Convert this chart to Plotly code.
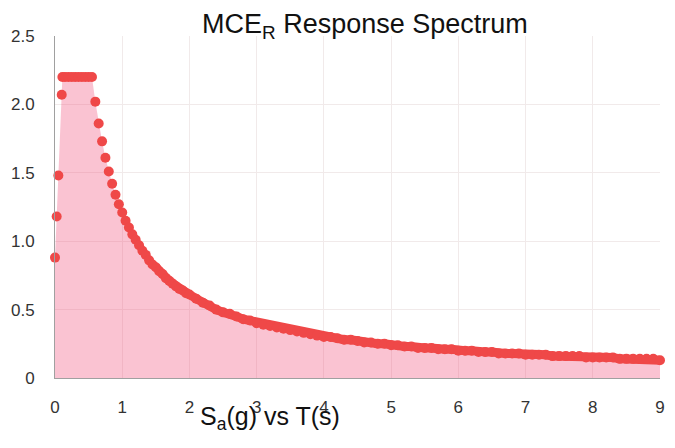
import plotly.graph_objects as go

# Period T (s)
period = [0.0, 0.025, 0.05, 0.1,
          0.11, 0.15, 0.2, 0.25, 0.3, 0.35, 0.4, 0.45, 0.5, 0.55,
          0.6, 0.65, 0.7, 0.75, 0.8, 0.85, 0.9, 0.95, 1.0, 1.05, 1.1, 1.15, 1.2, 1.25,
          1.3, 1.35, 1.4, 1.45, 1.5, 1.55, 1.6, 1.65, 1.7, 1.75, 1.8, 1.85, 1.9, 1.95, 2.0,
          2.1, 2.2, 2.3, 2.4, 2.5, 2.6, 2.7, 2.8, 2.9, 3.0, 3.1, 3.2, 3.3, 3.4, 3.5, 3.6,
          3.7, 3.8, 3.9, 4.0, 4.1, 4.2, 4.3, 4.4, 4.5, 4.6, 4.7, 4.8, 4.9, 5.0, 5.1, 5.2,
          5.3, 5.4, 5.5, 5.6, 5.7, 5.8, 5.9, 6.0, 6.1, 6.2, 6.3, 6.4, 6.5, 6.6, 6.7, 6.8,
          6.9, 7.0, 7.1, 7.2, 7.3, 7.4, 7.5, 7.6, 7.7, 7.8, 7.9, 8.0, 8.1, 8.2, 8.3, 8.4,
          8.5, 8.6, 8.7, 8.8, 8.9, 9.0]

# Spectral acceleration Sa (g)
sa = [0.88, 1.18, 1.48, 2.07,
      2.20, 2.20, 2.20, 2.20, 2.20, 2.20, 2.20, 2.20, 2.20, 2.20,
      2.02, 1.86, 1.73, 1.61, 1.51, 1.42, 1.34, 1.27, 1.21, 1.15, 1.10, 1.05, 1.01, 0.97,
      0.93, 0.90, 0.86, 0.83, 0.81, 0.78, 0.76, 0.73, 0.71, 0.69, 0.67, 0.65, 0.64, 0.62, 0.61,
      0.58, 0.55, 0.53, 0.50, 0.48, 0.47, 0.45, 0.43, 0.42, 0.40, 0.39, 0.38, 0.37, 0.36, 0.35, 0.34,
      0.33, 0.32, 0.31, 0.30, 0.30, 0.29, 0.28, 0.28, 0.27, 0.26, 0.26, 0.25, 0.25, 0.24, 0.24, 0.23,
      0.23, 0.22, 0.22, 0.22, 0.21, 0.21, 0.21, 0.20, 0.20, 0.20, 0.19, 0.19, 0.19, 0.18, 0.18, 0.18,
      0.18, 0.17, 0.17, 0.17, 0.17, 0.16, 0.16, 0.16, 0.16, 0.16, 0.15, 0.15, 0.15, 0.15, 0.15, 0.14,
      0.14, 0.14, 0.14, 0.14, 0.14, 0.13]

x_ticks = [0, 1, 2, 3, 4, 5, 6, 7, 8, 9]
y_ticks = [0, 0.5, 1.0, 1.5, 2.0, 2.5]
y_tick_text = ["0", "0.5", "1.0", "1.5", "2.0", "2.5"]

FONT = "Liberation Sans, Arial, sans-serif"
RED = "#EF4848"

# tail of the curve (dense band of points) drawn as a thick connecting line too
tail_start = period.index(1.5)
tail_x = period[tail_start:]
tail_y = sa[tail_start:]

fig = go.Figure()
fig.add_trace(go.Scatter(
    x=period, y=sa, mode="lines", fill="tozeroy",
    fillcolor="rgba(240,90,130,0.36)", line=dict(width=0, color="rgba(0,0,0,0)"),
    hoverinfo="skip", showlegend=False))
fig.add_trace(go.Scatter(
    x=tail_x, y=tail_y, mode="lines", line=dict(width=9, color=RED),
    cliponaxis=False, hoverinfo="skip", showlegend=False))
fig.add_trace(go.Scatter(
    x=period, y=sa, mode="markers",
    marker=dict(size=10, color=RED, line=dict(width=0)),
    cliponaxis=False, showlegend=False))

# the page body has an 8px default margin: size the figure to fit the 675x448 window
fig.update_layout(
    width=667, height=440,
    margin=dict(l=47, r=15, t=28, b=70, autoexpand=False),
    paper_bgcolor="white", plot_bgcolor="white",
    font=dict(family=FONT, size=17, color="#333333"),
    showlegend=False,
)
fig.update_xaxes(
    range=[0, 9], tickvals=x_ticks, ticks="", showgrid=True, gridcolor="#f1eaea",
    showline=True, linecolor="#a0a0a0", linewidth=1, zeroline=False,
    automargin=False, ticklabelstandoff=14,
    tickfont=dict(size=17, color="#333333"),
)
fig.update_yaxes(
    range=[0, 2.5], tickvals=y_ticks, ticktext=y_tick_text, ticks="",
    showgrid=True, gridcolor="#f1eaea", showline=True, linecolor="#a0a0a0",
    linewidth=1, zeroline=False, automargin=False, ticklabelstandoff=16,
    tickfont=dict(size=17, color="#333333"),
)
fig.add_annotation(
    text="MCE<sub>R</sub> Response Spectrum", xref="paper", yref="paper",
    x=(365 - 55) / 605, y=1, yshift=10, xanchor="center", yanchor="middle",
    showarrow=False, font=dict(family=FONT, size=27, color="#111111"))
fig.add_annotation(
    text="S<sub>a</sub>(g) vs T(s)", xref="paper", yref="paper",
    x=(270 - 55) / 605, y=0, yshift=-22, xanchor="center", yanchor="top",
    showarrow=False, font=dict(family=FONT, size=25, color="#111111"))

fig.write_html("out.html")
